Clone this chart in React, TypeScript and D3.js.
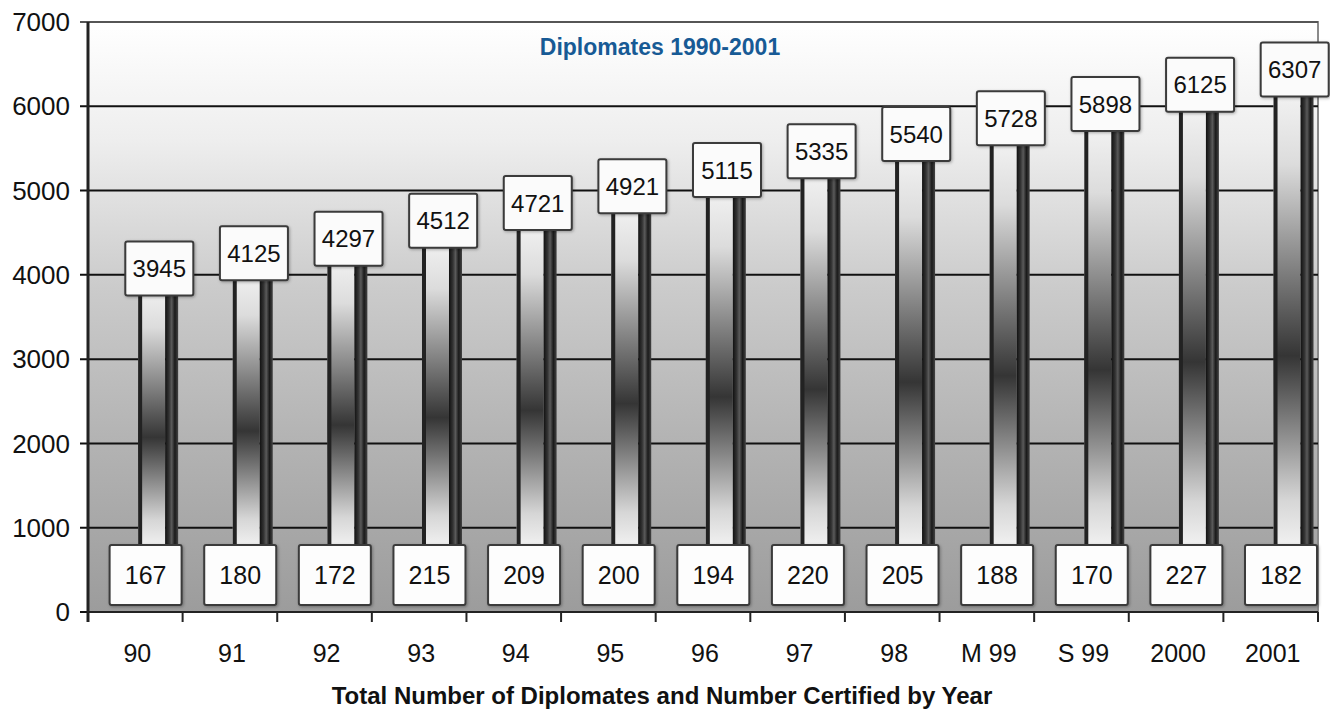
import * as d3 from "d3";

const categories = ["90", "91", "92", "93", "94", "95", "96", "97", "98", "M 99", "S 99", "2000", "2001"];
const totals = [3945, 4125, 4297, 4512, 4721, 4921, 5115, 5335, 5540, 5728, 5898, 6125, 6307];
const certified = [167, 180, 172, 215, 209, 200, 194, 220, 205, 188, 170, 227, 182];
const yTicks = [0, 1000, 2000, 3000, 4000, 5000, 6000, 7000];

const W = 1330;
const H = 715;
const left = 88;
const right = 1318;
const top = 22;
const bottom = 612;
const font = "'Liberation Sans', Arial, sans-serif";

export default function App() {
  const x = d3.scaleBand().domain(categories).range([left, right]).padding(0);
  const y = d3.scaleLinear().domain([0, 7000]).range([bottom, top]);
  const bw = x.bandwidth();
  const boxTop = y(0) - 67; // top of the "certified" label boxes

  return (
    <svg width={W} height={H} style={{ position: "absolute", left: 0, top: 0 }} fontFamily={font}>
      <defs>
        <linearGradient id="bg" x1="0" y1="0" x2="0" y2="1">
          <stop offset="0" stopColor="#ffffff" />
          <stop offset="0.2" stopColor="#eeeeee" />
          <stop offset="0.45" stopColor="#cbcbcb" />
          <stop offset="0.7" stopColor="#b4b4b4" />
          <stop offset="1" stopColor="#9c9c9c" />
        </linearGradient>
        <linearGradient id="body" x1="0" y1="0" x2="0" y2="1">
          <stop offset="0" stopColor="#f6f6f6" />
          <stop offset="0.18" stopColor="#dcdcdc" />
          <stop offset="0.59" stopColor="#353535" />
          <stop offset="0.9" stopColor="#d6d6d6" />
          <stop offset="1" stopColor="#f2f2f2" />
        </linearGradient>
        <linearGradient id="side" x1="0" y1="0" x2="1" y2="0">
          <stop offset="0" stopColor="#111" />
          <stop offset="0.3" stopColor="#333" />
          <stop offset="0.5" stopColor="#5a5a5a" />
          <stop offset="0.75" stopColor="#1a1a1a" />
          <stop offset="1" stopColor="#444" />
        </linearGradient>
        <filter id="shadow" x="-20%" y="-20%" width="140%" height="140%">
          <feDropShadow dx="1" dy="1" stdDeviation="1.5" floodColor="#000" floodOpacity="0.3" />
        </filter>
      </defs>

      {/* plot background */}
      <rect x={left} y={top} width={right - left} height={bottom - top} fill="url(#bg)" stroke="#8a8a8a" strokeWidth={2} />

      {/* gridlines + y ticks */}
      {yTicks.map((t) => (
        <g key={t}>
          <line x1={left - 8} x2={right} y1={y(t)} y2={y(t)} stroke={t === 7000 ? "#555" : "#111"} strokeWidth={2} />
          <text x={70} y={y(t)} dy="0.35em" textAnchor="end" fontSize={26} fill="#111">
            {t}
          </text>
        </g>
      ))}

      {/* bars (they run down behind the certified boxes) */}
      {categories.map((c, i) => {
        const bx = (x(c) as number) + bw * 0.53;
        const by = y(totals[i]);
        const h = boxTop + 2 - by;
        return (
          <g key={c}>
            <rect x={bx} y={by} width={27} height={h} fill="url(#body)" />
            <rect x={bx} y={by} width={4} height={h} fill="#222" />
            <rect x={bx + 27} y={by} width={13} height={h} fill="url(#side)" />
          </g>
        );
      })}

      {/* axes */}
      <line x1={left} x2={left} y1={top} y2={bottom + 10} stroke="#222" strokeWidth={3} />
      <line x1={left} x2={right} y1={bottom} y2={bottom} stroke="#222" strokeWidth={2} />
      {categories.map((c) => (
        <line key={"t" + c} x1={(x(c) as number) + bw} x2={(x(c) as number) + bw} y1={bottom} y2={bottom + 10} stroke="#222" strokeWidth={2} />
      ))}

      {/* total value boxes */}
      {categories.map((c, i) => {
        const cx = (x(c) as number) + bw / 2 + 24;
        const cy = y(totals[i]) - 11;
        return (
          <g key={"v" + c}>
            <rect x={cx - 34} y={cy - 27} width={68} height={54} rx={2} fill="#fbfbfb" stroke="#3a3a3a" strokeWidth={2} filter="url(#shadow)" />
            <text x={cx} y={cy} dy="0.36em" textAnchor="middle" fontSize={24} fill="#111">
              {totals[i]}
            </text>
          </g>
        );
      })}

      {/* certified boxes */}
      {categories.map((c, i) => {
        const rx = (x(c) as number) + bw;
        return (
          <g key={"c" + c}>
            <rect x={rx - 73} y={boxTop} width={72} height={60} rx={2} fill="#fdfdfd" stroke="#3a3a3a" strokeWidth={2} filter="url(#shadow)" />
            <text x={rx - 37} y={boxTop + 30} dy="0.36em" textAnchor="middle" fontSize={25} fill="#111">
              {certified[i]}
            </text>
          </g>
        );
      })}

      {/* x labels */}
      {categories.map((c) => (
        <text key={"x" + c} x={(x(c) as number) + bw / 2 + 2} y={662} textAnchor="middle" fontSize={25} fill="#111">
          {c}
        </text>
      ))}

      <text x={660} y={55} textAnchor="middle" fontSize={23} fontWeight="bold" fill="#175a95">
        Diplomates 1990-2001
      </text>
      <text x={662} y={704} textAnchor="middle" fontSize={24} fontWeight="bold" fill="#111">
        Total Number of Diplomates and Number Certified by Year
      </text>
    </svg>
  );
}
